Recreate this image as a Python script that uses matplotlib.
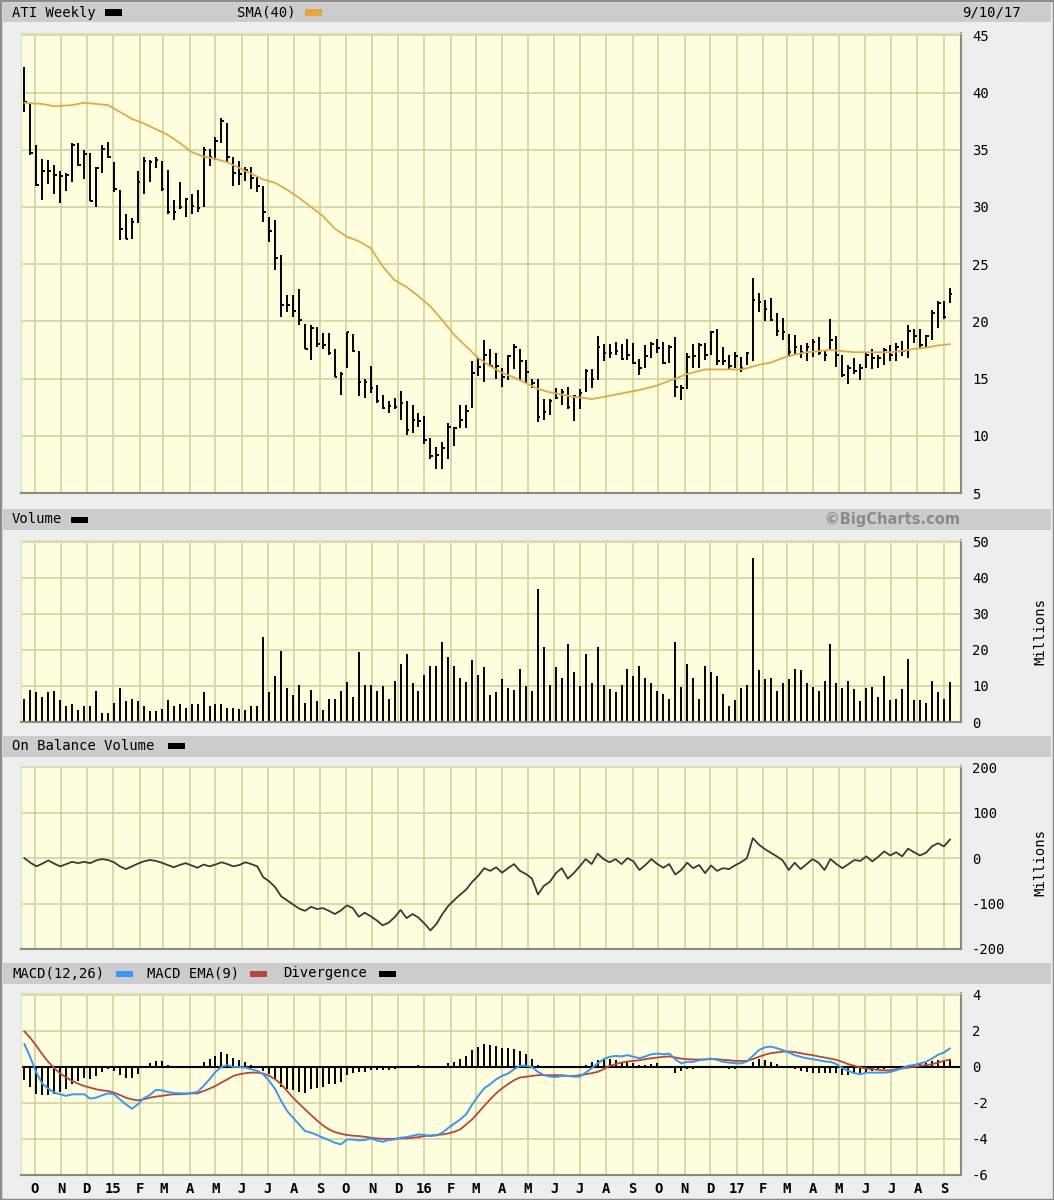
import matplotlib
matplotlib.use("Agg")
import matplotlib.pyplot as plt
import matplotlib.dates as mdates
from matplotlib.patches import Rectangle
import pandas as pd

# --- DATA ---
# weekly bars, Fri 19 Sep 2014 .. Fri 8 Sep 2017
week_dates = pd.date_range("2014-09-19", periods=156, freq="7D")

highs = [42.2, 39.1, 35.4, 34.2, 34.1, 33.7, 33.1, 33.0, 35.6, 35.6,
         35.0, 34.7, 33.5, 35.4, 35.7, 33.9, 31.5, 29.4, 29.0, 33.1,
         34.4, 34.1, 34.4, 34.0, 33.2, 30.6, 32.2, 30.8, 31.1, 31.5,
         35.2, 35.1, 36.1, 37.8, 37.3, 34.4, 34.0, 33.5, 33.5, 32.7,
         31.8, 29.1, 28.9, 25.8, 22.3, 22.3, 22.8, 19.8, 19.7, 19.5,
         19.0, 19.0, 17.6, 15.6, 19.1, 18.9, 17.4, 15.0, 16.1, 14.4,
         13.6, 13.0, 13.3, 13.9, 13.0, 12.7, 12.0, 11.7, 9.8, 9.0,
         9.5, 11.1, 10.8, 12.7, 12.7, 16.5, 16.8, 18.4, 17.6, 17.2,
         15.9, 17.1, 18.0, 17.6, 16.6, 15.0, 15.0, 13.2, 13.2, 14.2,
         14.1, 14.3, 13.6, 14.1, 15.8, 15.8, 18.7, 18.0, 18.0, 18.2,
         18.0, 18.5, 18.1, 16.7, 17.9, 18.2, 18.5, 18.2, 17.9, 18.6,
         14.4, 17.2, 18.0, 18.1, 18.1, 19.2, 19.3, 17.8, 17.1, 17.3,
         16.9, 17.3, 23.8, 22.5, 21.9, 22.0, 20.7, 20.3, 18.9, 18.8,
         17.9, 18.1, 18.5, 18.6, 17.5, 20.2, 18.7, 17.1, 16.2, 16.8,
         16.3, 17.2, 17.6, 17.1, 17.7, 17.9, 18.1, 18.3, 19.7, 19.3,
         19.3, 18.8, 21.0, 21.8, 21.8, 22.9]

lows = [38.3, 34.5, 31.8, 30.6, 32.0, 31.1, 30.3, 31.4, 32.2, 33.6,
        32.4, 30.5, 30.0, 33.0, 34.3, 31.3, 27.1, 27.2, 27.2, 28.6,
        31.1, 32.2, 33.4, 31.4, 29.4, 28.9, 29.8, 29.1, 29.4, 29.6,
        30.0, 33.6, 34.1, 35.6, 33.9, 31.8, 31.9, 32.3, 31.6, 31.3,
        28.7, 26.9, 24.5, 20.4, 20.8, 20.4, 19.7, 17.6, 16.6, 17.8,
        17.6, 17.1, 15.1, 13.6, 15.9, 17.3, 13.5, 13.3, 13.7, 12.9,
        12.3, 12.0, 12.3, 11.4, 10.1, 10.2, 10.8, 9.3, 8.0, 7.1,
        7.1, 8.0, 9.1, 10.7, 10.7, 12.4, 15.2, 14.7, 16.0, 15.0,
        14.3, 14.9, 15.8, 14.8, 14.6, 14.2, 11.2, 11.4, 11.8, 13.2,
        12.7, 12.3, 11.3, 12.3, 13.8, 14.2, 14.9, 16.5, 16.8, 17.1,
        16.6, 16.6, 16.3, 15.3, 15.9, 16.8, 17.2, 16.3, 16.4, 13.4,
        13.1, 14.1, 15.9, 15.9, 16.6, 17.1, 16.2, 16.2, 15.8, 15.9,
        15.6, 16.2, 16.5, 20.8, 20.0, 20.0, 18.7, 18.4, 16.9, 17.1,
        16.8, 16.5, 16.9, 17.1, 16.5, 17.6, 16.0, 15.1, 14.5, 15.4,
        14.9, 15.9, 15.8, 15.9, 16.2, 16.5, 16.5, 17.0, 16.8, 18.1,
        17.6, 17.8, 18.4, 19.4, 20.2, 21.6]

closes = [39.2, 34.7, 31.9, 33.1, 33.1, 32.8, 32.7, 32.8, 35.4, 33.7,
          34.6, 30.5, 33.4, 35.1, 34.4, 31.6, 28.1, 27.2, 28.7, 32.2,
          34.0, 33.9, 34.1, 31.6, 29.6, 29.6, 30.0, 30.7, 30.1, 29.9,
          35.0, 34.4, 35.8, 37.5, 34.4, 33.0, 32.9, 33.2, 32.5, 31.8,
          29.6, 27.9, 25.5, 21.4, 21.4, 20.9, 20.1, 17.6, 19.4, 18.0,
          17.9, 17.2, 15.1, 15.4, 19.1, 17.4, 14.7, 14.7, 14.2, 13.0,
          12.4, 12.6, 12.5, 12.9, 10.5, 11.4, 11.3, 9.6, 8.2, 8.3,
          8.9, 10.8, 10.7, 11.4, 12.2, 15.5, 16.0, 17.1, 16.1, 16.1,
          15.1, 17.0, 17.8, 16.5, 15.6, 14.6, 11.6, 12.1, 13.0, 13.3,
          13.8, 12.5, 13.5, 13.7, 15.7, 15.0, 17.8, 17.2, 17.2, 17.4,
          16.7, 17.1, 16.4, 15.9, 17.0, 18.0, 17.7, 16.4, 17.8, 14.3,
          14.2, 16.9, 17.0, 17.9, 17.1, 19.1, 16.5, 16.5, 16.1, 17.0,
          15.9, 17.2, 21.9, 21.7, 21.1, 20.1, 19.2, 19.1, 17.3, 17.8,
          17.3, 17.8, 18.2, 17.2, 17.1, 18.4, 17.1, 15.3, 15.9, 15.7,
          15.9, 17.1, 16.8, 16.8, 17.5, 17.1, 17.8, 17.4, 19.2, 18.7,
          17.9, 18.7, 20.7, 21.6, 20.4, 22.4]

# SMA(40) read at some of the weeks (bar index -> value)
sma_weeks = [0, 3, 5, 8, 10, 12, 14, 16, 18, 20, 22, 24, 26, 28, 30, 32, 34,
             36, 38, 40, 42, 44, 46, 48, 50, 52, 54, 56, 58, 60, 62, 64, 66,
             68, 70, 72, 74, 76, 78, 80, 82, 84, 86, 88, 90, 92, 94, 95, 97,
             100, 103, 106, 109, 111, 114, 116, 118, 120, 121, 123, 125, 127,
             129, 131, 133, 135, 137, 139, 141, 143, 145, 147, 149, 151, 153, 155]
sma_vals = [39.1, 39.0, 38.8, 38.9, 39.1, 39.0, 38.9, 38.3, 37.7, 37.3, 36.8,
            36.3, 35.6, 34.8, 34.4, 34.2, 33.9, 33.4, 32.9, 32.4, 32.1, 31.5,
            30.8, 30.0, 29.2, 28.1, 27.4, 27.0, 26.4, 24.8, 23.6, 23.0, 22.2,
            21.3, 20.1, 18.8, 17.8, 16.8, 16.1, 15.5, 15.1, 14.6, 14.1, 13.8,
            13.6, 13.4, 13.3, 13.2, 13.4, 13.7, 14.0, 14.4, 15.0, 15.4, 15.8,
            15.8, 15.8, 15.8, 15.9, 16.2, 16.4, 16.8, 17.1, 17.3, 17.4, 17.5,
            17.4, 17.3, 17.3, 17.3, 17.3, 17.4, 17.6, 17.7, 17.9, 18.0]

# volume, millions
volume = [6.5, 9.0, 8.2, 7.0, 8.2, 8.6, 6.1, 4.5, 4.9, 3.3,
          4.5, 4.5, 8.6, 2.5, 2.5, 5.3, 9.3, 5.8, 6.5, 5.8,
          4.5, 3.0, 3.0, 3.7, 6.1, 4.5, 4.9, 4.0, 4.9, 4.9,
          8.2, 4.5, 4.9, 4.9, 4.0, 4.0, 3.7, 3.3, 4.5, 4.5,
          23.7, 8.2, 12.8, 19.7, 9.3, 7.4, 10.2, 5.3, 9.0, 5.8,
          3.3, 6.5, 6.5, 8.6, 11.0, 7.0, 19.3, 10.2, 10.2, 8.6,
          10.0, 6.5, 11.5, 16.0, 18.8, 10.7, 8.6, 13.0, 15.5, 15.5,
          22.1, 18.1, 15.5, 12.3, 11.0, 17.2, 13.0, 15.2, 7.4, 8.2,
          11.9, 9.5, 9.0, 14.7, 10.0, 8.6, 36.9, 20.9, 10.2, 15.2,
          12.3, 21.7, 13.9, 10.0, 18.9, 10.7, 20.9, 10.2, 9.1, 8.2,
          10.2, 14.8, 12.8, 15.6, 12.3, 10.7, 8.6, 7.9, 6.5, 22.1,
          9.8, 16.1, 12.3, 6.5, 15.6, 13.9, 12.8, 7.9, 4.5, 6.2,
          9.4, 10.2, 45.6, 14.3, 11.9, 12.3, 8.6, 10.7, 11.9, 14.8,
          14.3, 10.7, 9.8, 8.6, 11.4, 21.7, 10.7, 9.4, 11.4, 9.1,
          5.8, 9.4, 9.8, 7.0, 12.8, 6.2, 6.5, 9.1, 17.6, 6.2,
          6.2, 5.3, 11.4, 8.2, 6.5, 11.0]

# on balance volume, millions
obv = [0, -10, -18, -12, -5, -12, -18, -13, -8, -11,
       -8, -11, -5, -2, -4, -9, -18, -24, -18, -12,
       -7, -4, -6, -10, -15, -20, -15, -11, -16, -21,
       -14, -18, -14, -9, -13, -18, -15, -9, -13, -18,
       -42, -51, -64, -84, -93, -102, -111, -116, -107, -112,
       -110, -116, -123, -115, -104, -110, -129, -120, -128, -137,
       -148, -142, -130, -114, -132, -123, -131, -144, -159, -145,
       -123, -105, -92, -80, -69, -52, -39, -22, -28, -20,
       -32, -22, -13, -28, -35, -45, -80, -61, -52, -33,
       -22, -45, -33, -18, -2, -13, 10, -2, -9, -2,
       -13, 0, -7, -26, -15, -2, -13, -21, -13, -36,
       -26, -10, -22, -15, -33, -16, -28, -22, -24, -16,
       -9, 0, 44, 30, 20, 12, 4, -5, -26, -10,
       -24, -13, -2, -10, -26, -2, -13, -22, -13, -4,
       -6, 4, -7, 3, 15, 6, 13, 4, 21, 13,
       6, 12, 26, 33, 26, 41]

macd = [1.26, 0.52, -0.32, -0.93, -1.2, -1.43, -1.52, -1.61, -1.52, -1.52,
        -1.52, -1.76, -1.71, -1.58, -1.47, -1.52, -1.8, -2.08, -2.32, -2.08,
        -1.74, -1.56, -1.28, -1.3, -1.39, -1.45, -1.47, -1.47, -1.45, -1.39,
        -1.06, -0.69, -0.28, 0.0, 0.09, 0.0, 0.0, -0.04, -0.13, -0.22,
        -0.41, -0.78, -1.24, -1.89, -2.45, -2.82, -3.19, -3.56, -3.65, -3.78,
        -3.93, -4.06, -4.21, -4.3, -4.03, -4.03, -4.08, -4.06, -3.97, -4.08,
        -4.16, -4.06, -4.03, -3.93, -3.9, -3.82, -3.75, -3.78, -3.84, -3.8,
        -3.65, -3.38, -3.15, -2.91, -2.63, -2.08, -1.61, -1.19, -0.96, -0.69,
        -0.5, -0.37, -0.13, 0.06, 0.06, 0.0, -0.28, -0.45, -0.54, -0.56,
        -0.5, -0.5, -0.54, -0.54, -0.32, -0.07, 0.19, 0.43, 0.56, 0.61,
        0.58, 0.65, 0.56, 0.48, 0.58, 0.7, 0.74, 0.7, 0.74, 0.43,
        0.2, 0.28, 0.28, 0.37, 0.41, 0.46, 0.39, 0.28, 0.24, 0.2,
        0.19, 0.3, 0.61, 0.93, 1.08, 1.13, 1.04, 0.93, 0.8, 0.65,
        0.56, 0.48, 0.43, 0.37, 0.3, 0.28, 0.15, -0.07, -0.22, -0.35,
        -0.41, -0.32, -0.32, -0.32, -0.32, -0.28, -0.19, -0.07, 0.06, 0.11,
        0.19, 0.28, 0.46, 0.67, 0.8, 1.02]

macd_ema = [1.97, 1.6, 1.17, 0.7, 0.28, -0.07, -0.37, -0.59, -0.78, -0.93,
            -1.06, -1.15, -1.24, -1.3, -1.34, -1.43, -1.56, -1.71, -1.8, -1.86,
            -1.8, -1.71, -1.65, -1.61, -1.56, -1.52, -1.52, -1.5, -1.47, -1.47,
            -1.34, -1.21, -1.06, -0.87, -0.69, -0.5, -0.41, -0.35, -0.32, -0.32,
            -0.37, -0.5, -0.69, -0.96, -1.34, -1.71, -2.04, -2.36, -2.67, -2.97,
            -3.25, -3.47, -3.62, -3.71, -3.78, -3.82, -3.84, -3.88, -3.93, -3.97,
            -3.99, -3.99, -3.99, -3.97, -3.97, -3.93, -3.9, -3.84, -3.8, -3.78,
            -3.75, -3.69, -3.6, -3.47, -3.19, -2.91, -2.54, -2.17, -1.8, -1.47,
            -1.19, -0.96, -0.74, -0.59, -0.55, -0.5, -0.46, -0.46, -0.46, -0.46,
            -0.46, -0.5, -0.5, -0.46, -0.41, -0.35, -0.28, -0.13, 0.06, 0.15,
            0.24, 0.3, 0.33, 0.37, 0.43, 0.48, 0.52, 0.56, 0.58, 0.52,
            0.46, 0.43, 0.41, 0.41, 0.41, 0.43, 0.43, 0.39, 0.37, 0.33,
            0.33, 0.33, 0.43, 0.56, 0.67, 0.76, 0.8, 0.85, 0.85, 0.82,
            0.76, 0.7, 0.65, 0.58, 0.52, 0.46, 0.39, 0.28, 0.15, 0.06,
            -0.04, -0.09, -0.13, -0.17, -0.19, -0.19, -0.13, -0.09, -0.04, 0.0,
            0.06, 0.09, 0.15, 0.24, 0.33, 0.41]

divergence = [-0.74, -1.11, -1.52, -1.58, -1.58, -1.48, -1.39, -1.24, -0.93, -0.78,
              -0.59, -0.69, -0.5, -0.26, -0.09, -0.22, -0.45, -0.59, -0.59, -0.37,
              0.05, 0.2, 0.3, 0.3, 0.1, 0.0, 0.0, 0.0, 0.0, 0.0,
              0.28, 0.46, 0.61, 0.85, 0.7, 0.52, 0.37, 0.28, 0.11, 0.0,
              -0.22, -0.41, -0.69, -1.11, -1.24, -1.3, -1.39, -1.43, -1.24, -1.19,
              -1.11, -0.96, -0.93, -0.82, -0.45, -0.32, -0.28, -0.28, -0.19, -0.19,
              -0.19, -0.15, -0.09, 0.0, 0.0, 0.0, 0.1, 0.0, 0.0, 0.0,
              0.0, 0.19, 0.28, 0.43, 0.61, 0.93, 1.08, 1.26, 1.22, 1.17,
              1.04, 1.04, 0.98, 0.89, 0.7, 0.46, 0.09, 0.0, -0.07, -0.07,
              -0.07, -0.07, -0.07, 0.0, 0.09, 0.28, 0.37, 0.46, 0.46, 0.39,
              0.28, 0.28, 0.2, 0.11, 0.11, 0.15, 0.19, 0.0, 0.0, -0.32,
              -0.22, -0.13, -0.13, -0.07, 0.0, 0.0, 0.0, -0.07, -0.13, -0.13,
              -0.07, 0.0, 0.28, 0.46, 0.39, 0.28, 0.15, 0.06, 0.0, -0.13,
              -0.22, -0.28, -0.32, -0.35, -0.35, -0.32, -0.35, -0.46, -0.45, -0.41,
              -0.35, -0.26, -0.22, -0.13, -0.13, -0.07, -0.07, 0.0, 0.09, 0.15,
              0.15, 0.24, 0.33, 0.39, 0.39, 0.43]

price_ticks = [5, 10, 15, 20, 25, 30, 35, 40, 45]
volume_ticks = [0, 10, 20, 30, 40, 50]
obv_ticks = [-200, -100, 0, 100, 200]
macd_ticks = [-6, -4, -2, 0, 2, 4]

# --- SETUP ---
plt.rcParams["font.family"] = ["DejaVu Sans Mono"]
plt.rcParams["axes.unicode_minus"] = False

W, H = 1054, 1200
BG = "#FFFFE0"
GRID = "#D6D6A4"

x = mdates.date2num(week_dates)
months = pd.date_range("2014-10-01", "2017-09-01", freq="MS")
month_x = mdates.date2num(months)
month_labels = [m.strftime("%y") if m.month == 1 else m.strftime("%b")[0] for m in months]
x_lo = mdates.date2num(pd.Timestamp("2014-09-15"))
x_hi = mdates.date2num(pd.Timestamp("2017-09-21"))


def px_rect(x0, y0, x1, y1):
    # pixel box (top-left origin) -> figure fraction
    return [x0 / W, 1 - y1 / H, (x1 - x0) / W, (y1 - y0) / H]


def header(fig, y0, y1):
    fig.patches.append(Rectangle((3 / W, 1 - y1 / H), 1048 / W, (y1 - y0) / H,
                                 transform=fig.transFigure, facecolor="#CCCCCC",
                                 edgecolor="none", zorder=0))


def swatch(fig, x0, yc, color):
    fig.patches.append(Rectangle((x0 / W, 1 - (yc + 3) / H), 17 / W, 6 / H,
                                 transform=fig.transFigure, facecolor=color,
                                 edgecolor="none"))


def label(fig, x0, yc, text, **kw):
    fig.text(x0 / W, 1 - yc / H, text, va="center", ha="left", fontsize=10, **kw)


def style(ax, ylim, yticks):
    ax.set_facecolor(BG)
    ax.set_xlim(x_lo, x_hi)
    ax.set_ylim(*ylim)
    ax.set_yticks(yticks)
    ax.yaxis.tick_right()
    ax.tick_params(axis="y", length=0, pad=8, labelsize=10)
    ax.set_xticks(month_x)
    ax.tick_params(axis="x", length=0, labelbottom=False)
    ax.grid(True, color=GRID, lw=1.3)
    ax.set_axisbelow(True)
    for side in ["top", "left"]:
        ax.spines[side].set_color("#E2E2C4")
        ax.spines[side].set_linewidth(1)
    for side in ["bottom", "right"]:
        ax.spines[side].set_color("#8A8A80")
        ax.spines[side].set_linewidth(1.5)


fig = plt.figure(figsize=(W / 100, H / 100), dpi=100, facecolor="#EEEEEE")
fig.patches.append(Rectangle((0, 0), 1, 1, transform=fig.transFigure, fill=False,
                             edgecolor="#8C8C8C", lw=2.5))

# --- 1. PRICE ---
header(fig, 3, 22)
label(fig, 12, 12.5, "ATI Weekly")
swatch(fig, 105, 12.5, "black")
label(fig, 237, 12.5, "SMA(40)")
swatch(fig, 305, 12.5, "#E3A640")
label(fig, 962, 12.5, "9/10/17")

ax1 = fig.add_axes(px_rect(21, 33, 961, 493))
style(ax1, (5, 45.2), price_ticks)
ax1.vlines(x, lows, highs, color="black", lw=1.4)
ax1.hlines(closes, x, x + 3, color="black", lw=1.4)
ax1.plot(x[sma_weeks], sma_vals, color="#E3A846", lw=1.3)

# --- 2. VOLUME ---
header(fig, 509, 530)
label(fig, 12, 519.5, "Volume")
swatch(fig, 71, 519.5, "black")
fig.text(960 / W, 1 - 519.5 / H, "\u00a9BigCharts.com", ha="right", va="center",
         fontsize=10.5, fontweight="bold", color="#8A8A8A", family="DejaVu Sans")

ax2 = fig.add_axes(px_rect(21, 540, 961, 722))
style(ax2, (0, 50.5), volume_ticks)
ax2.vlines(x, 0, volume, color="black", lw=1.4)
fig.text(1040 / W, 1 - 632 / H, "Millions", rotation=90, ha="center", va="center", fontsize=10)

# --- 3. ON BALANCE VOLUME ---
header(fig, 736, 757)
label(fig, 12, 746, "On Balance Volume")
swatch(fig, 168, 746, "black")

ax3 = fig.add_axes(px_rect(21, 766, 961, 949))
style(ax3, (-200, 203), obv_ticks)
ax3.plot(x, obv, color="#3A3A3A", lw=1.3)
fig.text(1040 / W, 1 - 862 / H, "Millions", rotation=90, ha="center", va="center", fontsize=10)

# --- 4. MACD ---
header(fig, 963, 984)
label(fig, 12, 973.5, "MACD(12,26)")
swatch(fig, 116, 973.5, "#3A96F0")
label(fig, 147, 973.5, "MACD EMA(9)")
swatch(fig, 250, 973.5, "#B5483C")
label(fig, 283, 973.5, "Divergence")
swatch(fig, 379, 973.5, "black")

ax4 = fig.add_axes(px_rect(21, 993, 961, 1175))
style(ax4, (-6, 4.1), macd_ticks)
ax4.axhline(0, color="black", lw=1.5)
ax4.vlines(x, 0, divergence, color="black", lw=1.4)
ax4.plot(x, macd_ema, color="#B5483C", lw=1.3)
ax4.plot(x, macd, color="#3A96F0", lw=1.4)
ax4.tick_params(axis="x", labelbottom=True, pad=5, labelsize=10)
ax4.set_xticklabels(month_labels, fontweight="bold")

plt.savefig("out.png", dpi=100, facecolor=fig.get_facecolor())
print("saved out.png")
